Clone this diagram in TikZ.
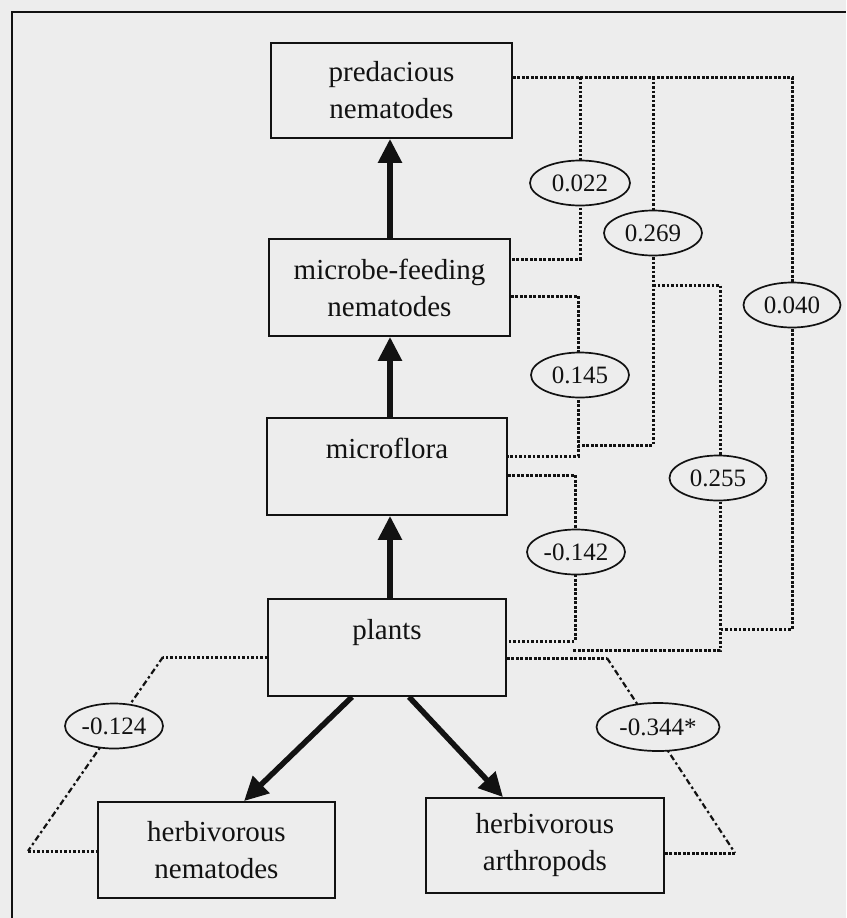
\documentclass[tikz,border=0pt]{standalone}
\usepackage{fontspec}
\setmainfont{Liberation Serif}
\usetikzlibrary{arrows.meta,shapes.geometric}
\definecolor{bg}{HTML}{EDEDED}
\definecolor{ink}{HTML}{121212}
\tikzset{
  box/.style={draw=ink,line width=1.8pt,rectangle,inner sep=0pt,align=center,
    font=\fontsize{29}{37}\selectfont,text=ink},
  corr/.style={draw=ink,line width=1.7pt,ellipse,inner sep=0pt,fill=bg,
    minimum height=45pt,font=\fontsize{25}{28}\selectfont,text=ink},
  flow/.style={draw=ink,line width=5.5pt,-{Triangle[length=24pt,width=23pt]}},
  dots/.style={draw=ink,line width=3pt,dash pattern=on 2.6pt off 1.9pt},
  dashdots/.style={draw=ink,line width=2.2pt,dash pattern=on 6pt off 3pt on 2.5pt off 3pt}
}
\begin{document}
\begin{tikzpicture}[x=1pt,y=-1pt]
\fill[bg] (0,0) rectangle (846,918);
\useasboundingbox (0,0) rectangle (846,918);
% outer frame (open at right and bottom)
\coordinate (fb) at (12,918);
\coordinate (fc) at (12,12);
\coordinate (fr) at (846,12);
\draw[ink,line width=1.3pt] (fb) -- (fc) -- (fr);

% boxes
\node[box,minimum width=241pt,minimum height=95pt] (pred) at (391.5,90.5) {predacious\\nematodes};
\node[box,minimum width=241pt,minimum height=97pt] (mfn) at (389.5,287.5) {microbe-feeding\\nematodes};
\node[box,minimum width=240pt,minimum height=97pt] (mflo) at (387,466.5) {microflora\\\mbox{}};
\node[box,minimum width=238pt,minimum height=97pt] (pl) at (387,647.5) {plants\\\mbox{}};
\node[box,minimum width=237pt,minimum height=96pt] (hn) at (216.5,850) {herbivorous\\nematodes};
\node[box,minimum width=238pt,minimum height=95pt] (ha) at (545,845.5) {herbivorous\\arthropods};

% thick arrows
\coordinate (ax) at (390,0);
\draw[flow] (ax |- pl.north) -- (ax |- mflo.south);
\draw[flow] (ax |- mflo.north) -- (ax |- mfn.south);
\draw[flow] (ax |- mfn.north) -- (ax |- pred.south);
\coordinate (plbl) at (352,0);
\coordinate (plbr) at (409,0);
\coordinate (hntop) at (244,0);
\coordinate (hatop) at (503,0);
\draw[flow] (plbl |- pl.south) -- (hntop |- hn.north);
\draw[flow] (plbr |- pl.south) -- (hatop |- ha.north);

% turning points of the dotted connectors
\coordinate (a1) at (580,77);
\coordinate (a2) at (653,77);
\coordinate (a3) at (792,77);
\coordinate (b1) at (580,259);
\coordinate (c1) at (653,445);
\coordinate (c2) at (578,445);
\coordinate (d1) at (578,296);
\coordinate (d2) at (578,456);
\coordinate (g1) at (653,285);
\coordinate (g2) at (720,285);
\coordinate (g3) at (720,650);
\coordinate (g4) at (573,650);
\coordinate (h1) at (792,629);
\coordinate (h2) at (720,629);
\coordinate (k1) at (575,475);
\coordinate (k2) at (575,641);
\coordinate (m1) at (607,658);
\coordinate (m2) at (735,853);
\coordinate (n1) at (163,657);
\coordinate (n2) at (28,851);

% dotted connectors
\draw[dots] (pred.east |- a1) -- (a3) -- (h1) -- (h2);
\draw[dots] (a1) -- (b1) -- (mfn.east |- b1);
\draw[dots] (a2) -- (c1) -- (c2);
\draw[dots] (mfn.east |- d1) -- (d1) -- (d2) -- (mflo.east |- d2);
\draw[dots] (g1) -- (g2) -- (g3) -- (g4);
\draw[dots] (mflo.east |- k1) -- (k1) -- (k2) -- (pl.east |- k2);
\draw[dots] (pl.east |- m1) -- (m1);
\draw[dashdots] (m1) -- (m2);
\draw[dots] (m2) -- (ha.east |- m2);
\draw[dots] (pl.west |- n1) -- (n1);
\draw[dashdots] (n1) -- (n2);
\draw[dots] (n2) -- (hn.west |- n2);

% correlation labels
\node[corr,minimum width=100pt] (e022) at (580,183) {0.022};
\node[corr,minimum width=98pt] (e269) at (653,233) {0.269};
\node[corr,minimum width=97pt] (e040) at (792,305) {0.040};
\node[corr,minimum width=98pt] (e145) at (580,375) {0.145};
\node[corr,minimum width=97pt] (e255) at (718,478) {0.255};
\node[corr,minimum width=98pt] (e142) at (576,552) {-0.142};
\node[corr,minimum width=98pt] (e124) at (114,726) {-0.124};
\node[corr,minimum width=123pt,minimum height=48pt] (e344) at (658,727) {-0.344*};
\end{tikzpicture}
\end{document}
